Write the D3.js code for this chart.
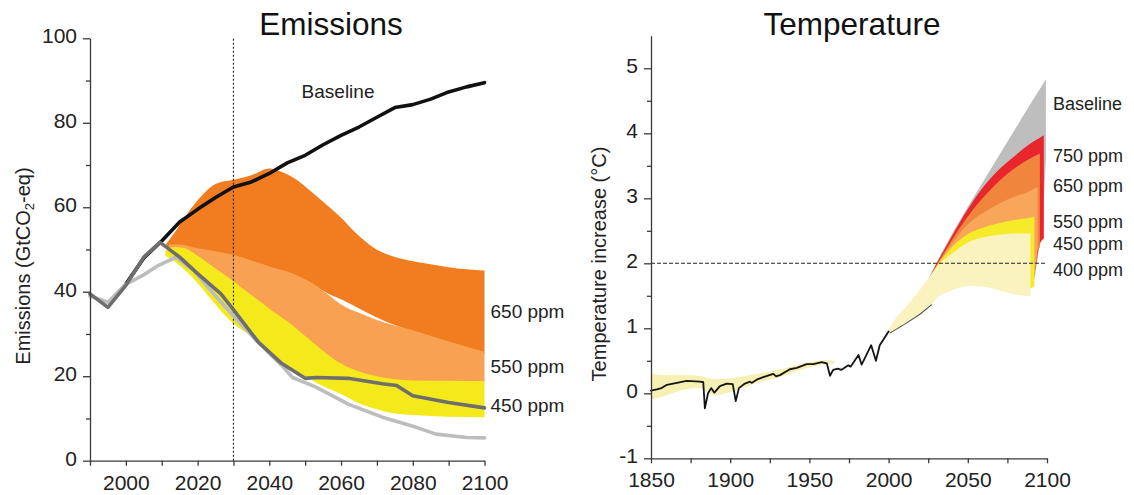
<!DOCTYPE html>
<html>
<head>
<meta charset="utf-8">
<title>Emissions and Temperature</title>
<script src="https://cdn.jsdelivr.net/npm/d3@7"></script>
<style>
  body { margin: 0; background: #fff; }
  svg { font-family: "Liberation Sans", Arial, sans-serif; }
  .axis path, .axis line { stroke: #3a3a3a; stroke-width: 1.3; }
  .axis text { font-size: 21px; fill: #222; }
  .lbl { font-size: 19px; fill: #222; }
  .rlbl { font-size: 18px; fill: #222; }
  .ytitle { font-size: 20px; fill: #222; }
  .title { font-size: 31.5px; fill: #111; }
</style>
</head>
<body>
<svg id="chart" width="1134" height="495"></svg>
<script>
// ---------- Emissions panel data (GtCO2-eq) ----------
const e650Years  = [2011, 2014, 2018, 2022, 2025, 2030, 2035, 2040, 2043, 2048, 2052, 2057, 2060, 2064, 2069, 2074, 2079, 2085, 2090, 2095, 2100];
const e650Top    = [51, 54.5, 59.5, 63.5, 65.5, 66.5, 67.6, 69.2, 68.5, 66.3, 63.5, 59.8, 57.5, 54, 50.5, 48.5, 47.4, 46.5, 45.8, 45.3, 45];
const e650Bottom = [50.5, 50, 49, 48, 47.5, 46.5, 45.5, 44, 43.5, 42.8, 41.6, 39.3, 38.2, 36.5, 34.3, 32.4, 30.9, 29, 27.7, 26.5, 25.4];

const e550Years  = [2012, 2015, 2020, 2025, 2030, 2035, 2040, 2045, 2049, 2052, 2056, 2060, 2065, 2070, 2075, 2080, 2085, 2090, 2095, 2100];
const e550Top    = [51.2, 51.2, 50.3, 49.6, 48.7, 47.4, 46, 44.8, 43.4, 42, 39.6, 37, 35, 33.3, 32, 30.9, 29.6, 28.2, 27, 25.8];
const e550Bottom = [50.3, 49.5, 47, 44, 41, 37.5, 34.5, 31.5, 28.5, 26.5, 24, 22, 20.2, 19.2, 18.8, 18.7, 18.7, 18.7, 18.7, 18.7];

const e450Years  = [2011, 2013, 2016, 2020, 2025, 2030, 2035, 2040, 2045, 2050, 2055, 2060, 2065, 2070, 2075, 2080, 2090, 2100];
const e450Top    = [49.5, 50.6, 50.4, 48.5, 45.5, 42.5, 39.2, 36, 33, 29.5, 26, 23, 21.1, 20, 19.3, 19, 18.9, 18.8];
const e450Bottom = [48.5, 47.5, 45.5, 42, 37, 32.4, 29.5, 26, 22.5, 20, 17.6, 15.8, 13.6, 12.2, 11.2, 10.8, 10.4, 10.3];

const baselineYears = [2000, 2005, 2010, 2015, 2020, 2025, 2030, 2035, 2040, 2045, 2050, 2055, 2060, 2065, 2070, 2075, 2080, 2085, 2090, 2095, 2100];
const baselineEm    = [41.8, 48, 52, 56.5, 59.5, 62.3, 64.8, 66, 68, 70.5, 72.3, 74.8, 77, 79, 81.3, 83.6, 84.3, 85.6, 87.3, 88.5, 89.5];

const mid450Years = [1990, 1995, 2000, 2005, 2009.5, 2015, 2020, 2026.5, 2029.5, 2037, 2043.5, 2050, 2053, 2062, 2071.5, 2075.5, 2080, 2090, 2100];
const mid450Em    = [39.5, 36.3, 41.5, 48.2, 51.7, 48.2, 44.3, 39.5, 36.3, 28, 23, 19.5, 19.7, 19.5, 18.2, 17.8, 15.4, 13.8, 12.5];

const low450Years = [1990, 1995, 2000, 2005, 2009, 2014, 2019, 2021, 2025, 2029.5, 2036, 2043.5, 2046.5, 2053, 2062, 2071.5, 2081, 2086.5, 2095, 2100];
const low450Em    = [39, 37.5, 41.8, 44, 46.2, 48.2, 45, 43, 39, 34.8, 28.8, 22.5, 19.7, 17.4, 13.4, 10.3, 7.9, 6.3, 5.5, 5.4];

const emMarkYear = 2030;
const emYTicks = d3.range(0, 101, 10);
const emXTicks = d3.range(1990, 2101, 10);

// ---------- Temperature panel data (deg C) ----------
const histYears = [1850, 1853.6, 1856.7, 1860, 1864, 1872.5, 1881, 1883, 1884, 1886, 1888, 1890, 1893.5, 1897.8, 1901.6,
  1903.5, 1905.5, 1909.3, 1912.5, 1913.5, 1916.7, 1920.9, 1927.2, 1929, 1931.4, 1937.7, 1942, 1948.3, 1952.5, 1957.8,
  1961, 1963, 1965, 1968, 1970, 1974.6, 1976, 1981, 1983, 1989, 1992, 1994.4, 2000];
const histTemp = [0.04, 0.06, 0.08, 0.13, 0.15, 0.19, 0.18, 0.17, -0.23, 0, 0.08, 0.01, 0.11, 0.15, 0.14,
  -0.12, 0.08, 0.15, 0.18, 0.16, 0.21, 0.25, 0.3, 0.26, 0.28, 0.37, 0.39, 0.45, 0.45, 0.48,
  0.46, 0.27, 0.36, 0.38, 0.36, 0.43, 0.41, 0.59, 0.44, 0.74, 0.5, 0.74, 0.95];

const histBandYears  = [1850, 1860, 1870, 1880, 1890, 1900, 1910, 1920, 1930, 1940, 1950, 1960, 1966];
const histBandTop    = [0.3, 0.28, 0.28, 0.27, 0.22, 0.23, 0.27, 0.31, 0.36, 0.42, 0.48, 0.51, 0.49];
const histBandBottom = [-0.1, -0.03, 0.05, 0.08, -0.03, 0.02, 0.1, 0.18, 0.24, 0.32, 0.4, 0.44, 0.46];

const tBaseYears  = [2025, 2030, 2040, 2050, 2060, 2070, 2080, 2090, 2095.5, 2098, 2099.3];
const tBaseTop    = [1.75, 2.0, 2.45, 2.87, 3.27, 3.67, 4.07, 4.47, 4.68, 4.78, 4.83];
const tBaseBottom = [1.5, 1.6, 1.75, 1.8, 1.8, 1.75, 1.7, 1.65, 2.35, 3.0, 3.6];

const t750Years  = [2025, 2030, 2040, 2050, 2060, 2070, 2080, 2090, 2095.5, 2098];
const t750Top    = [1.75, 1.98, 2.42, 2.83, 3.18, 3.45, 3.66, 3.85, 3.93, 3.97];
const t750Bottom = [1.5, 1.6, 1.75, 1.8, 1.8, 1.75, 1.7, 1.65, 2.3, 2.38];

const t650Years  = [2025, 2030, 2040, 2050, 2060, 2070, 2080, 2090, 2094, 2095.5];
const t650Top    = [1.75, 1.96, 2.36, 2.72, 3.02, 3.27, 3.47, 3.62, 3.67, 3.69];
const t650Bottom = [1.5, 1.6, 1.75, 1.8, 1.8, 1.75, 1.7, 1.65, 2.2, 2.24];

const t550Years  = [2025, 2030, 2040, 2050, 2060, 2070, 2080, 2090, 2092, 2094];
const t550Top    = [1.75, 1.95, 2.3, 2.6, 2.78, 2.92, 3.03, 3.12, 3.15, 3.17];
const t550Bottom = [1.5, 1.6, 1.75, 1.8, 1.8, 1.75, 1.7, 1.65, 1.8, 2.2];

const t450Years  = [2025, 2030, 2040, 2050, 2060, 2070, 2080, 2089, 2092];
const t450Top    = [1.75, 1.94, 2.25, 2.45, 2.55, 2.62, 2.67, 2.7, 2.72];
const t450Bottom = [1.5, 1.6, 1.75, 1.8, 1.8, 1.75, 1.7, 1.62, 1.64];

const t400Years  = [2000, 2003, 2010, 2020, 2027, 2030, 2040, 2050, 2060, 2070, 2080, 2089.5];
const t400Top    = [0.97, 1.1, 1.3, 1.6, 1.83, 1.93, 2.15, 2.32, 2.4, 2.44, 2.46, 2.46];
const t400Bottom = [0.93, 0.95, 1.06, 1.22, 1.36, 1.45, 1.58, 1.65, 1.64, 1.58, 1.52, 1.49];

const tLowYears = [2001, 2010, 2020, 2027];
const tLowTemp  = [0.93, 1.06, 1.22, 1.36];

const tempTarget = 2;
const tYTicks = d3.range(-1, 5.01, 0.5);
const tXTicks = d3.range(1850, 2101, 25);

const tLabelText = ["Baseline", "750 ppm", "650 ppm", "550 ppm", "450 ppm", "400 ppm"];

// ---------- drawing ----------
const svg = d3.select("#chart");

const ex = d3.scaleLinear().domain([1990, 2100]).range([90, 484.5]);
const ey = d3.scaleLinear().domain([0, 100]).range([460.7, 38.3]);
const tx = d3.scaleLinear().domain([1850, 2100]).range([651, 1047]);
const ty = d3.scaleLinear().domain([-1, 5.5]).range([458.3, 35.8]);

function band(g, xs, ys, years, top, bottom, fill) {
  const rows = years.map((yr, i) => [yr, top[i], bottom[i]]);
  g.append("path")
    .datum(rows)
    .attr("fill", fill)
    .attr("d", d3.area()
      .x(d => xs(d[0]))
      .y1(d => ys(d[1]))
      .y0(d => ys(d[2]))
      .curve(d3.curveMonotoneX));
}

function line(g, xs, ys, years, vals, color, width) {
  g.append("path")
    .datum(years.map((yr, i) => [yr, vals[i]]))
    .attr("fill", "none")
    .attr("stroke", color)
    .attr("stroke-width", width)
    .attr("stroke-linejoin", "round")
    .attr("stroke-linecap", "round")
    .attr("d", d3.line().x(d => xs(d[0])).y(d => ys(d[1])));
}

// Emissions panel
const em = svg.append("g");
band(em, ex, ey, e650Years, e650Top, e650Bottom, "#F27D20");
band(em, ex, ey, e550Years, e550Top, e550Bottom, "#F9A152");
band(em, ex, ey, e450Years, e450Top, e450Bottom, "#F4EA1B");

em.append("line")
  .attr("x1", ex(emMarkYear)).attr("x2", ex(emMarkYear))
  .attr("y1", ey(0)).attr("y2", ey(100) - 1.5)
  .attr("stroke", "#222").attr("stroke-width", 1.1)
  .attr("stroke-dasharray", "2,2");

line(em, ex, ey, baselineYears, baselineEm, "#111", 3.6);
line(em, ex, ey, low450Years, low450Em, "#BDBDBD", 3.6);
line(em, ex, ey, mid450Years, mid450Em, "#6E6E6E", 3.6);

const emY = em.append("g").attr("class", "axis")
  .attr("transform", `translate(${ex(1990)},0)`)
  .call(d3.axisLeft(ey).tickValues(emYTicks).tickSize(7).tickSizeOuter(0).tickPadding(6)
    .tickFormat(d => d % 20 === 0 ? d : ""));
emY.selectAll(".tick text").attr("dy", "0.22em");
emY.selectAll(".tick line").filter(d => d % 20 !== 0).attr("x2", -4);

em.append("g").attr("class", "axis")
  .attr("transform", `translate(0,${ey(0)})`)
  .call(d3.axisBottom(ex).tickValues(emXTicks).tickSize(5).tickSizeOuter(0).tickPadding(9)
    .tickFormat(d => (d % 20 === 0 && d >= 2000) ? d : ""));

em.append("text").attr("class", "title")
  .attr("x", 331).attr("y", 35).attr("text-anchor", "middle").text("Emissions");

const emTitle = em.append("text").attr("class", "ytitle")
  .attr("transform", "translate(30,266) rotate(-90)")
  .attr("text-anchor", "middle");
emTitle.append("tspan").text("Emissions (GtCO");
emTitle.append("tspan").attr("font-size", 13).attr("dy", 4).text("2");
emTitle.append("tspan").attr("dy", -4).text("-eq)");

em.append("text").attr("class", "lbl").attr("x", ex(2049)).attr("y", ey(85.9)).text("Baseline");
em.append("text").attr("class", "lbl").attr("x", ex(2100) + 6).attr("y", ey(33.8)).text("650 ppm");
em.append("text").attr("class", "lbl").attr("x", ex(2100) + 6).attr("y", ey(20.8)).text("550 ppm");
em.append("text").attr("class", "lbl").attr("x", ex(2100) + 6).attr("y", ey(11.5)).text("450 ppm");

// Temperature panel
const tp = svg.append("g");
band(tp, tx, ty, histBandYears, histBandTop, histBandBottom, "#F6F0B4");
band(tp, tx, ty, tBaseYears, tBaseTop, tBaseBottom, "#BEBEBE");
band(tp, tx, ty, t750Years, t750Top, t750Bottom, "#E8262C");
band(tp, tx, ty, t650Years, t650Top, t650Bottom, "#F0863E");
band(tp, tx, ty, t550Years, t550Top, t550Bottom, "#F8A65A");
band(tp, tx, ty, t450Years, t450Top, t450Bottom, "#F6EB2A");
band(tp, tx, ty, t400Years, t400Top, t400Bottom, "#FAF3BF");

line(tp, tx, ty, tLowYears, tLowTemp, "#555", 1.1);
line(tp, tx, ty, histYears, histTemp, "#141414", 1.8);

tp.append("line")
  .attr("x1", tx(1850)).attr("x2", tx(2100))
  .attr("y1", ty(tempTarget)).attr("y2", ty(tempTarget))
  .attr("stroke", "#222").attr("stroke-width", 1.1)
  .attr("stroke-dasharray", "4,2");

const tY = tp.append("g").attr("class", "axis")
  .attr("transform", `translate(${tx(1850)},0)`)
  .call(d3.axisLeft(ty).tickValues(tYTicks).tickSize(7).tickSizeOuter(0).tickPadding(6)
    .tickFormat(d => Number.isInteger(d) ? String(d) : ""));
tY.selectAll(".tick text").attr("dy", "0.22em");
tY.selectAll(".tick line").filter(d => !Number.isInteger(d)).attr("x2", -4);

tp.append("g").attr("class", "axis")
  .attr("transform", `translate(0,${ty(-1)})`)
  .call(d3.axisBottom(tx).tickValues(tXTicks).tickSize(5).tickSizeOuter(0).tickPadding(9)
    .tickFormat(d => d % 50 === 0 ? d : ""));

tp.append("text").attr("class", "title")
  .attr("x", 852).attr("y", 35).attr("text-anchor", "middle").text("Temperature");

tp.append("text").attr("class", "ytitle")
  .attr("transform", "translate(606,264) rotate(-90)")
  .attr("text-anchor", "middle")
  .text("Temperature increase (°C)");

// label baselines, in degrees on the temperature axis
const tLabelAt = [4.36, 3.56, 3.1, 2.54, 2.2, 1.81];
tLabelText.forEach((txt, i) => {
  tp.append("text").attr("class", "rlbl").attr("x", tx(2100) + 6).attr("y", ty(tLabelAt[i])).text(txt);
});
</script>
</body>
</html>
